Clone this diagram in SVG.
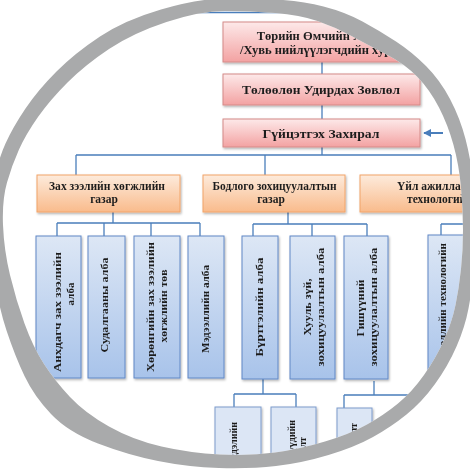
<svg xmlns="http://www.w3.org/2000/svg" width="470" height="472" viewBox="0 0 470 472">
<style>
.pk{fill:url(#gPk);stroke:#d48a88;stroke-width:1}
.or{fill:url(#gOr);stroke:#f2a468;stroke-width:1}
.bl{fill:url(#gBl);stroke:#6088c6;stroke-width:1}
.lb{fill:#dce6f5;stroke:#7c9ccc;stroke-width:1}
.t{font-family:"Liberation Serif","Times New Roman",serif;font-weight:bold;fill:#1e1e1e}
.c{fill:none;stroke:#4a7ebb;stroke-width:1.3}
</style>
<defs>
<linearGradient id="gPk" x1="0" y1="0" x2="0" y2="1"><stop offset="0" stop-color="#fde9e9"/><stop offset="1" stop-color="#f3a2a2"/></linearGradient>
<linearGradient id="gOr" x1="0" y1="0" x2="0" y2="1"><stop offset="0" stop-color="#fdebdc"/><stop offset="1" stop-color="#f9bb8c"/></linearGradient>
<linearGradient id="gBl" x1="0" y1="0" x2="0" y2="1"><stop offset="0" stop-color="#dde7f5"/><stop offset="1" stop-color="#a8c3ea"/></linearGradient>
<filter id="sh" x="-20%" y="-20%" width="140%" height="140%"><feDropShadow dx="1" dy="1.5" stdDeviation="1" flood-color="#000" flood-opacity="0.3"/></filter>
<marker id="ah" viewBox="0 0 10 10" refX="9" refY="5" markerWidth="4" markerHeight="4" orient="auto"><path d="M0,0 L10,5 L0,10 Z" fill="#4a7ebb"/></marker>
<clipPath id="lens"><path d="M109,49 Q133,33 166.5,22 Q200,11 225,11 Q250,11 275,13 Q300,15 317.5,21 Q335,27 351.5,36 Q368,45 386.5,54.5 Q405,64 417.5,77 Q430,90 439,107.5 Q448,125 453.5,145 Q459,165 461,187.5 Q463,210 463,230 Q463,250 461,269 Q459,288 455.5,305 Q452,322 444,340 Q436,358 424,375 Q412,392 398,403.5 Q384,415 367,424.5 Q350,434 325,441.5 Q300,449 275,452.5 Q250,456 220,454.5 Q190,453 161.5,446.5 Q133,440 109,426.5 Q85,413 70,397 Q55,381 44,364 Q33,347 24.5,323.5 Q16,300 10,275 Q4,250 3,225 Q2,200 7,182.5 Q12,165 19,149.5 Q26,134 38,117 Q50,100 67.5,82.5 Q85,65 109,49 Z"/></clipPath>
</defs>
<rect x="0" y="0" width="470" height="472" fill="#ffffff"/>
<g clip-path="url(#lens)">
<g id="connectors">
<line class="c" x1="100" y1="12.5" x2="400" y2="12.5"/>
<path class="c" d="M322,62 V74 M322,105 V119 M322,147 V155 M76,155 H451 M76,155 V175 M265,155 V175 M451,155 V175"/>
<path class="c" d="M113,212 V223 M57,223 H200 M57,223 V236 M104,223 V236 M151,223 V236 M200,223 V236"/>
<path class="c" d="M288,212 V224 M253,224 H367 M253,224 V236 M312,224 V236 M367,224 V236"/>
<path class="c" d="M441,224 H480 M441,224 V235"/>
<path class="c" d="M263,379 V394 M234,394 H296 M234,394 V407 M296,394 V407"/>
<path class="c" d="M374,381 V395 M344,395 H430 M344,395 V408"/>
<line x1="443" y1="133" x2="424" y2="133" stroke="#4a7ebb" stroke-width="2" marker-end="url(#ah)"/>
</g>
<g id="n1" filter="url(#sh)"><rect class="pk" x="223" y="22" width="197" height="40"/>
<text class="t" font-size="12.5" x="322" y="40" text-anchor="middle">Төрийн Өмчийн Хороо</text>
<text class="t" font-size="12.5" x="324" y="54" text-anchor="middle">/Хувь нийлүүлэгчдийн хурал/</text></g>
<g id="n2" filter="url(#sh)"><rect class="pk" x="223" y="74" width="197" height="31"/>
<text class="t" font-size="13.5" x="321" y="93.5" text-anchor="middle" textLength="158" lengthAdjust="spacingAndGlyphs">Төлөөлөн Удирдах Зөвлөл</text></g>
<g id="n3" filter="url(#sh)"><rect class="pk" x="223" y="119" width="197" height="28"/>
<text class="t" font-size="13.5" x="321" y="138" text-anchor="middle" textLength="117" lengthAdjust="spacingAndGlyphs">Гүйцэтгэх Захирал</text></g>
<g id="g1" filter="url(#sh)"><rect class="or" x="37" y="175" width="143" height="37"/>
<text class="t" font-size="11.5" x="107" y="190" text-anchor="middle" textLength="116" lengthAdjust="spacingAndGlyphs">Зах зээлийн хөгжлийн</text>
<text class="t" font-size="11.5" x="104" y="203" text-anchor="middle">газар</text></g>
<g id="g2" filter="url(#sh)"><rect class="or" x="203" y="175" width="142" height="37"/>
<text class="t" font-size="11.5" x="274.5" y="190" text-anchor="middle" textLength="124" lengthAdjust="spacingAndGlyphs">Бодлого зохицуулалтын</text>
<text class="t" font-size="11.5" x="271" y="203" text-anchor="middle">газар</text></g>
<g id="g3" filter="url(#sh)"><rect class="or" x="360" y="175" width="143" height="37"/>
<text class="t" font-size="11.5" x="397" y="190">Үйл ажиллагааны</text>
<text class="t" font-size="11.5" x="407" y="203">технологийн газар</text></g>
<g id="b1" filter="url(#sh)"><rect class="bl" x="36" y="236" width="45" height="142"/>
<text class="t" font-size="11" transform="translate(61,312) rotate(-90)" text-anchor="middle" textLength="120" lengthAdjust="spacingAndGlyphs">Анхдагч зах зээлийн</text>
<text class="t" font-size="11" transform="translate(74,294) rotate(-90)" text-anchor="middle">алба</text></g>
<g id="b2" filter="url(#sh)"><rect class="bl" x="88" y="236" width="37" height="142"/>
<text class="t" font-size="11" transform="translate(108,305) rotate(-90)" text-anchor="middle" textLength="95" lengthAdjust="spacingAndGlyphs">Судалгааны алба</text></g>
<g id="b3" filter="url(#sh)"><rect class="bl" x="134" y="236" width="46" height="142"/>
<text class="t" font-size="11" transform="translate(154,307) rotate(-90)" text-anchor="middle" textLength="130" lengthAdjust="spacingAndGlyphs">Хөрөнгийн зах зээлийн</text>
<text class="t" font-size="11" transform="translate(167,306) rotate(-90)" text-anchor="middle" textLength="73" lengthAdjust="spacingAndGlyphs">хөгжлийн төв</text></g>
<g id="b4" filter="url(#sh)"><rect class="bl" x="188" y="236" width="36" height="142"/>
<text class="t" font-size="11" transform="translate(209,309) rotate(-90)" text-anchor="middle" textLength="88" lengthAdjust="spacingAndGlyphs">Мэдээллийн алба</text></g>
<g id="b5" filter="url(#sh)"><rect class="bl" x="242" y="236" width="36" height="143"/>
<text class="t" font-size="11" transform="translate(263,307) rotate(-90)" text-anchor="middle" textLength="99" lengthAdjust="spacingAndGlyphs">Бүртгэлийн алба</text></g>
<g id="b6" filter="url(#sh)"><rect class="bl" x="290" y="236" width="45" height="143"/>
<text class="t" font-size="11" transform="translate(311,307) rotate(-90)" text-anchor="middle" textLength="57" lengthAdjust="spacingAndGlyphs">Хууль зүй,</text>
<text class="t" font-size="10" transform="translate(324,307) rotate(-90)" text-anchor="middle" textLength="119" lengthAdjust="spacingAndGlyphs">зохицуулалтын алба</text></g>
<g id="b7" filter="url(#sh)"><rect class="bl" x="344" y="236" width="44" height="143"/>
<text class="t" font-size="11" transform="translate(364,308) rotate(-90)" text-anchor="middle" textLength="57" lengthAdjust="spacingAndGlyphs">Гишүүний</text>
<text class="t" font-size="10" transform="translate(377,307) rotate(-90)" text-anchor="middle" textLength="119" lengthAdjust="spacingAndGlyphs">зохицуулалтын алба</text></g>
<g id="b8" filter="url(#sh)"><rect class="bl" x="428" y="235" width="46" height="144"/>
<text class="t" font-size="11" transform="translate(446,307) rotate(-90)" text-anchor="middle" textLength="128" lengthAdjust="spacingAndGlyphs">Мэдээллийн технологийн</text></g>
<g id="c1" filter="url(#sh)"><rect class="lb" x="215" y="407" width="46" height="110"/>
<text class="t" font-size="10" transform="translate(237,422) rotate(-90)" text-anchor="end">Эрсдэлийн</text></g>
<g id="c2" filter="url(#sh)"><rect class="lb" x="271" y="407" width="45" height="110"/>
<text class="t" font-size="10" transform="translate(295,420) rotate(-90)" text-anchor="end">Гишүүдийн</text>
<text class="t" font-size="10" transform="translate(306,437) rotate(-90)" text-anchor="end">хяналт</text></g>
<g id="c3" filter="url(#sh)"><rect class="lb" x="337" y="408" width="35" height="110"/>
<text class="t" font-size="10" transform="translate(357,423) rotate(-90)" text-anchor="end">хяналт</text></g>
</g>
<path id="ring" fill="#a9aaab" fill-rule="evenodd" d="M100,36.5 Q125,20 161,9.5 Q197,-1 223.5,-1.5 Q250,-2 276,-0.5 Q302,1 323.5,6.5 Q345,12 362.5,21.5 Q380,31 396,41.5 Q412,52 426,66 Q440,80 450,99 Q460,118 465.5,139 Q471,160 473.5,185 Q476,210 476,230 Q476,250 474,270 Q472,290 468.5,308.5 Q465,327 456.5,346.5 Q448,366 435,384 Q422,402 406.5,414.5 Q391,427 373,437 Q355,447 328.5,455 Q302,463 276,466 Q250,469 219,468 Q188,467 158,461 Q128,455 98,443.5 Q68,432 51,414 Q34,396 24.5,376 Q15,356 6.5,330.5 Q-2,305 -5,277.5 Q-8,250 -8.5,225 Q-9,200 -5.5,180 Q-2,160 5.5,143.5 Q13,127 25.5,108.5 Q38,90 56.5,71.5 Q75,53 100,36.5 Z M109,49 Q133,33 166.5,22 Q200,11 225,11 Q250,11 275,13 Q300,15 317.5,21 Q335,27 351.5,36 Q368,45 386.5,54.5 Q405,64 417.5,77 Q430,90 439,107.5 Q448,125 453.5,145 Q459,165 461,187.5 Q463,210 463,230 Q463,250 461,269 Q459,288 455.5,305 Q452,322 444,340 Q436,358 424,375 Q412,392 398,403.5 Q384,415 367,424.5 Q350,434 325,441.5 Q300,449 275,452.5 Q250,456 220,454.5 Q190,453 161.5,446.5 Q133,440 109,426.5 Q85,413 70,397 Q55,381 44,364 Q33,347 24.5,323.5 Q16,300 10,275 Q4,250 3,225 Q2,200 7,182.5 Q12,165 19,149.5 Q26,134 38,117 Q50,100 67.5,82.5 Q85,65 109,49 Z"/>
</svg>
